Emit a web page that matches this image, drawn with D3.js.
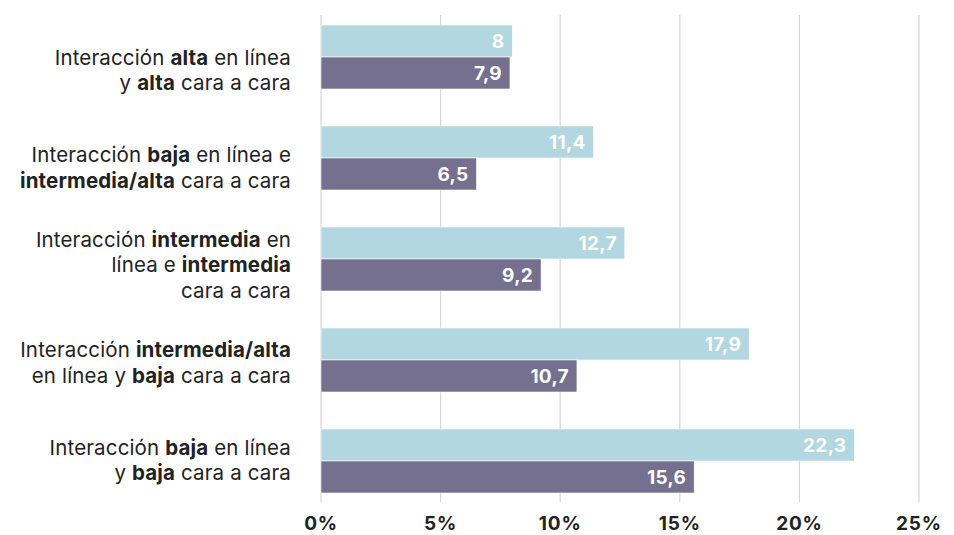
<!DOCTYPE html>
<html><head><meta charset="utf-8">
<script src="https://cdn.jsdelivr.net/npm/d3@7"></script>
<style>body{margin:0;background:#fff}svg{display:block}</style>
</head><body>
<svg id="c" width="954" height="535"></svg>
<script>
// label segments: [text, bold]
const categories = [
  [[["Interacción ",0],["alta",1],[" en línea",0]],[["y ",0],["alta",1],[" cara a cara",0]]],
  [[["Interacción ",0],["baja",1],[" en línea e",0]],[["intermedia/alta",1],[" cara a cara",0]]],
  [[["Interacción ",0],["intermedia",1],[" en",0]],[["línea e ",0],["intermedia",1]],[["cara a cara",0]]],
  [[["Interacción ",0],["intermedia/alta",1]],[["en línea y ",0],["baja",1],[" cara a cara",0]]],
  [[["Interacción ",0],["baja",1],[" en línea",0]],[["y ",0],["baja",1],[" cara a cara",0]]]
];
const seriesA = [8, 11.4, 12.7, 17.9, 22.3];
const seriesB = [7.9, 6.5, 9.2, 10.7, 15.6];
const ticks = [0, 5, 10, 15, 20, 25];
const colors = ["#b3d7e1", "#74708e"];

const svg = d3.select("#c");
const x = d3.scaleLinear().domain([0, 25]).range([321, 919]);
const y = d3.scaleBand().domain(d3.range(categories.length)).range([14.9, 503.1]).paddingInner(0.3663).paddingOuter(0.1);
const ys = d3.scaleBand().domain([0,1]).range([0, y.bandwidth()]);
const yl = d3.scalePoint().domain(d3.range(categories.length)).range([70, 460]);

svg.append("g").selectAll("line").data(ticks).join("line")
  .attr("x1", d => x(d)).attr("x2", d => x(d))
  .attr("y1", 15).attr("y2", 502)
  .attr("stroke", "#d6d6d6").attr("stroke-width", 1.2);

const font = "Inter, 'Noto Sans', sans-serif";

const series = [seriesA, seriesB];
series.forEach((s, si) => {
  const g = svg.append("g");
  g.selectAll("rect").data(s).join("rect")
    .attr("x", x(0)).attr("y", (d, i) => y(i) + ys(si))
    .attr("width", d => x(d) - x(0)).attr("height", ys.bandwidth())
    .attr("fill", colors[si]).attr("stroke", "#fff").attr("stroke-width", 0.6);
  g.selectAll("text").data(s).join("text")
    .attr("x", d => x(d) - 8).attr("y", (d, i) => y(i) + ys(si) + ys.bandwidth() / 2)
    .attr("dy", "0.36em").attr("text-anchor", "end")
    .attr("font-family", font).attr("font-weight", 700).attr("font-size", 19)
    .attr("letter-spacing", 0.3)
    .attr("fill", "#fff")
    .text(d => String(d).replace(".", ","));
});

svg.append("g").selectAll("text").data(ticks).join("text")
  .attr("x", d => x(d)).attr("y", 523).attr("dy", "0.36em")
  .attr("text-anchor", "middle").attr("font-family", font)
  .attr("font-weight", 700).attr("font-size", 19).attr("letter-spacing", 0.8).attr("fill", "#222")
  .text(d => d + "%");

const lh = 25.5;
categories.forEach((lines, i) => {
  const cy = yl(i);
  const t = svg.append("text").attr("text-anchor", "end")
    .attr("font-family", font).attr("font-size", 20.5).attr("letter-spacing", 0.15).attr("fill", "#222");
  lines.forEach((segs, li) => {
    const yy = cy + (li - (lines.length - 1) / 2) * lh;
    segs.forEach((sg, k) => {
      const ts = t.append("tspan").text(sg[0]).attr("font-weight", sg[1] ? 700 : 400);
      if (k === 0) ts.attr("x", 291).attr("y", yy).attr("dy", "0.36em");
    });
  });
});
</script>
</body></html>
